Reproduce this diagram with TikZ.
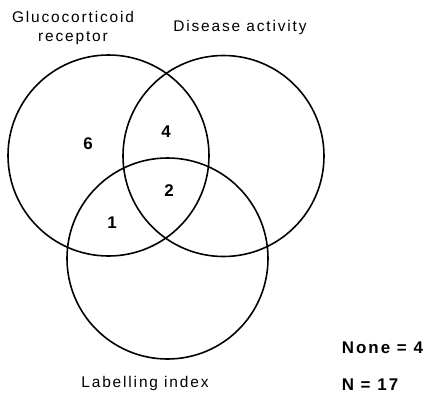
\documentclass[tikz,border=0pt]{standalone}
\usepackage{fontspec}
\setmainfont[LetterSpace=12]{Liberation Sans}
\usetikzlibrary{positioning}

\begin{document}
\begin{tikzpicture}[x = 1bp, y = -1bp, % pixel units, y downwards
                line width = 1.6pt % line style
            ]

            \tikzstyle{set}=[draw = black, circle, inner sep = 0pt,
            minimum size = 201bp]
            \tikzstyle{lbl}=[inner sep = 0pt, font = \fontsize{15.5}{19}\selectfont]
            \tikzstyle{num}=[inner sep = 0pt, font = \fontsize{17}{20}\selectfont\bfseries]

            \useasboundingbox (0,0) rectangle (427,394);

            \node (gc) [set] at (108.5,155.5) {}; \node (da) [set] at (223.5,156)
            {}; \node (li) [set] at (167.5,258.5) {};

            \node (gclbl) [lbl, align = center] at (73,28) {Glucocorticoid\\receptor};
            \node (dalbl) [lbl] at (240,28) {Disease activity}; \node (lilbl)
            [lbl] at (145,384) {Labelling index};

            \node (n6) [num] at (88,144) {6}; \node (n4) [num] at (166,132) {4};
            \node (n2) [num] at (169,191) {2}; \node (n1) [num] at (112,223) {1};

            \node (none) [num, anchor = west] at (341,348) {None = 4}; \node (tot)
            [num, anchor = west] at (341,385) {N = 17};
\end{tikzpicture}
\end{document}
